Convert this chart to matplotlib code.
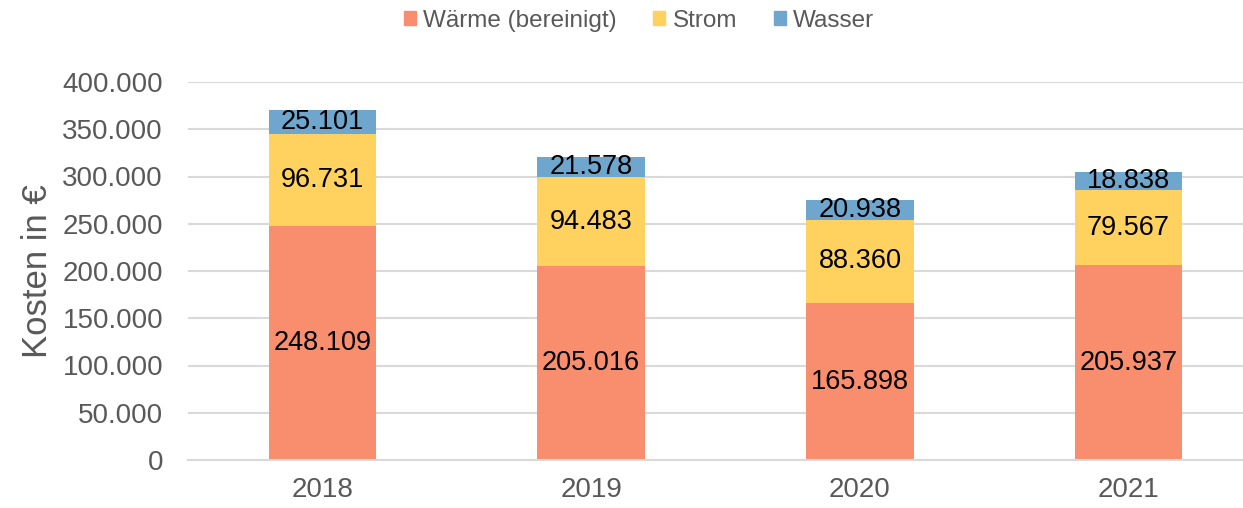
import matplotlib.pyplot as plt
import numpy as np
from matplotlib.ticker import FuncFormatter
from matplotlib.patches import Patch

years = ["2018", "2019", "2020", "2021"]
waerme = [248109, 205016, 165898, 205937]
strom = [96731, 94483, 88360, 79567]
wasser = [25101, 21578, 20938, 18838]
series_names = ["Wärme (bereinigt)", "Strom", "Wasser"]
colors = ["#F98E6E", "#FFD15E", "#6FA6CE"]


def fmt_de(v):
    return f"{int(round(v)):,}".replace(",", ".")


def main():
    plt.rcParams["font.family"] = ["Liberation Sans", "DejaVu Sans"]
    fig = plt.figure(figsize=(12.43, 5.08), dpi=100)
    # plot area runs past the right edge, like the cropped original
    ax = fig.add_axes([188 / 1243, 1 - 460 / 508, 1075 / 1243, 378 / 508])

    x = np.arange(len(years))
    bottom = np.zeros(len(years))
    for vals, name, col in zip([waerme, strom, wasser], series_names, colors):
        vals = np.array(vals)
        ax.bar(x, vals, 0.40, bottom=bottom, color=col, label=name, zorder=2)
        for xi, b, v in zip(x, bottom, vals):
            ax.text(xi, b + v / 2, fmt_de(v), ha="center", va="center",
                    fontsize=19.5, color="black", zorder=3)
        bottom = bottom + vals

    ax.set_xlim(-0.5, 3.5)
    ax.set_ylim(0, 400000)
    ax.set_yticks(np.arange(0, 400001, 50000))
    ax.yaxis.set_major_formatter(FuncFormatter(lambda v, p: fmt_de(v)))
    ax.set_xticks(x)
    ax.set_xticklabels(years)
    ax.tick_params(axis="both", length=0, labelsize=20, colors="#595959")
    ax.tick_params(axis="y", pad=18)
    ax.tick_params(axis="x", pad=12)
    ax.grid(axis="y", color="#D9D9D9", linewidth=1.5, zorder=0)
    for s in ["top", "right", "left"]:
        ax.spines[s].set_visible(False)
    ax.spines["bottom"].set_color("#D9D9D9")
    ax.spines["bottom"].set_linewidth(1.5)
    ax.set_ylabel("Kosten in €", fontsize=25, color="#595959", labelpad=6)

    handles = [Patch(color=c) for c in colors]
    fig.legend(handles, series_names, loc="center", bbox_to_anchor=(639 / 1243, 1 - 21 / 508),
               ncol=3, frameon=False, fontsize=17.5, labelcolor="#595959",
               handlelength=0.5, handleheight=0.5, handletextpad=0.3, columnspacing=1.5)

    fig.savefig("out.png", dpi=100)


if __name__ == '__main__':
    main()
